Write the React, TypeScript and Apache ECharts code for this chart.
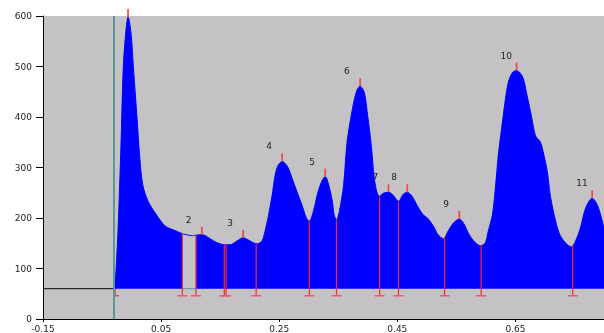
import React, { useEffect, useRef } from "react";
import * as echarts from "echarts";

// Detector trace: retention time (x) and signal (y)
const TIME = [
  -0.028, -0.023, -0.018, -0.014, -0.009, -0.006, -0.001, 0.003, 0.009, 0.014,
  0.019, 0.028, 0.04, 0.057, 0.074, 0.086, 0.103, 0.109, 0.119, 0.125,
  0.133, 0.145, 0.158, 0.167, 0.179, 0.189, 0.197, 0.206, 0.213, 0.221,
  0.226, 0.231, 0.238, 0.243, 0.248, 0.255, 0.264, 0.272, 0.281, 0.289,
  0.296, 0.301, 0.308, 0.316, 0.323, 0.328, 0.333, 0.34, 0.343, 0.347,
  0.352, 0.359, 0.365, 0.374, 0.381, 0.387, 0.394, 0.399, 0.406, 0.411,
  0.416, 0.42, 0.426, 0.435, 0.443, 0.452, 0.46, 0.467, 0.475, 0.484,
  0.494, 0.501, 0.511, 0.519, 0.528, 0.536, 0.545, 0.555, 0.562, 0.57,
  0.579, 0.591, 0.599, 0.604, 0.611, 0.616, 0.621, 0.628, 0.633, 0.638,
  0.645, 0.652, 0.662, 0.67, 0.677, 0.684, 0.692, 0.697, 0.704, 0.709,
  0.718, 0.726, 0.738, 0.745, 0.752, 0.76, 0.769, 0.78, 0.789, 0.797,
  0.801,
];
const SIGNAL = [
  61, 174, 343, 500, 578, 598, 567, 500, 402, 318,
  265, 233, 210, 184, 175, 169, 165, 166, 167, 165,
  159, 151, 147, 147, 155, 161, 157, 151, 149, 155,
  174, 200, 245, 284, 304, 312, 302, 278, 249, 224,
  200, 194, 214, 253, 275, 282, 269, 233, 206, 196,
  214, 265, 351, 416, 451, 461, 449, 410, 343, 278,
  249, 243, 249, 251, 245, 233, 247, 251, 243, 224,
  206, 200, 184, 167, 159, 174, 190, 198, 190, 171,
  155, 145, 151, 174, 206, 259, 324, 390, 435, 469,
  488, 492, 480, 441, 402, 363, 351, 331, 292, 245,
  194, 165, 147, 143, 155, 180, 220, 239, 225, 194,
  174,
];

const BASELINE = 60;
const BOUNDARY_FOOT = 46;
const INJECTION_TIME = -0.031;
const X_TICKS = [-0.15, 0.05, 0.25, 0.45, 0.65];
const Y_TICKS = [0, 100, 200, 300, 400, 500, 600];

// Integration boundaries (red drop lines)
const BOUNDARIES = [
  -0.028, 0.086, 0.109, 0.157, 0.16, 0.211, 0.301, 0.347, 0.42, 0.452, 0.53,
  0.592, 0.747,
];
// Peak 2 is bounded by these two drops and is drawn unfilled
const OPEN_PEAK = [0.086, 0.109];

// Peak apexes and their numbers
const PEAK_TIMES = [
  -0.006, 0.119, 0.189, 0.255, 0.328, 0.387, 0.435, 0.467, 0.555, 0.652, 0.78,
];
const PEAK_NAMES = ["", "2", "3", "4", "5", "6", "7", "8", "9", "10", "11"];

function signalAt(t: number): number {
  for (let i = 0; i < TIME.length - 1; i++) {
    if (t >= TIME[i] && t <= TIME[i + 1]) {
      const f = (t - TIME[i]) / (TIME[i + 1] - TIME[i]);
      return SIGNAL[i] + f * (SIGNAL[i + 1] - SIGNAL[i]);
    }
  }
  return SIGNAL[SIGNAL.length - 1];
}

const FONT = '9px "DejaVu Sans"';

export default function App() {
  const ref = useRef<HTMLDivElement>(null);

  useEffect(() => {
    if (!ref.current) return;
    const chart = echarts.init(ref.current, undefined, { renderer: "svg" });

    const filled = TIME.map((t, i) =>
      t > OPEN_PEAK[0] && t < OPEN_PEAK[1] ? [t, "-"] : [t, SIGNAL[i]]
    );
    const openOutline = TIME.map((t, i) => [t, SIGNAL[i]]).filter(
      (p) => p[0] >= OPEN_PEAK[0] && p[0] <= OPEN_PEAK[1]
    );
    const boundaryData = BOUNDARIES.map((t) => [t, signalAt(t)]);
    const peakData = PEAK_TIMES.map((t, i) => ({
      value: [t, signalAt(t)],
      name: PEAK_NAMES[i],
    }));

    const red = "#f52a2a";

    chart.setOption({
      animation: false,
      grid: {
        left: 43,
        top: 16,
        right: 0,
        bottom: 11,
        show: true,
        backgroundColor: "#c4c2c5",
        borderWidth: 0,
      },
      xAxis: {
        type: "value",
        min: X_TICKS[0],
        max: 0.8,
        interval: 0.2,
        axisLine: { show: true, onZero: false, lineStyle: { color: "#000", width: 1 } },
        axisTick: { show: true, length: 3, lineStyle: { color: "#000" } },
        axisLabel: {
          color: "#222",
          fontFamily: "DejaVu Sans",
          fontSize: 9,
          margin: 5,
          showMaxLabel: false,
          formatter: (v: number) => v.toFixed(2),
        },
        splitLine: { show: false },
      },
      yAxis: {
        type: "value",
        min: Y_TICKS[0],
        max: Y_TICKS[Y_TICKS.length - 1],
        interval: 100,
        axisLine: { show: true, onZero: false, lineStyle: { color: "#000", width: 1 } },
        axisTick: { show: true, length: 7, lineStyle: { color: "#000" } },
        axisLabel: {
          color: "#222",
          fontFamily: "DejaVu Sans",
          fontSize: 9,
          margin: 11,
        },
        splitLine: { show: false },
      },
      series: [
        {
          name: "baseline",
          type: "line",
          data: [
            [X_TICKS[0], BASELINE],
            [BOUNDARIES[0], BASELINE],
          ],
          symbol: "none",
          lineStyle: { color: "#000", width: 1 },
          z: 1,
          markLine: {
            silent: true,
            symbol: "none",
            label: { show: false },
            lineStyle: { color: "#5f9797", width: 2, type: "solid" },
            data: [{ xAxis: INJECTION_TIME }],
          },
        },
        {
          name: "open baseline",
          type: "line",
          data: [
            [OPEN_PEAK[0], BASELINE],
            [OPEN_PEAK[1], BASELINE],
          ],
          symbol: "none",
          lineStyle: { color: "#5f9797", width: 1 },
          z: 1,
        },
        {
          name: "signal",
          type: "line",
          data: filled,
          symbol: "none",
          connectNulls: false,
          smooth: 0.3,
          lineStyle: { color: "#0000ff", width: 1 },
          areaStyle: { color: "#0000ff", opacity: 1, origin: BASELINE },
          z: 2,
        },
        {
          name: "peak 2 outline",
          type: "line",
          data: openOutline,
          symbol: "none",
          smooth: 0.3,
          lineStyle: { color: "#0000ff", width: 1 },
          z: 2,
        },
        {
          name: "boundaries",
          type: "custom",
          data: boundaryData,
          encode: { x: 0, y: 1 },
          z: 3,
          clip: false,
          renderItem: (params: any, api: any) => {
            const t = api.value(0);
            const top = api.coord([t, api.value(1)]);
            const foot = api.coord([t, BOUNDARY_FOOT]);
            const base = api.coord([t, BASELINE]);
            const style = { stroke: red, lineWidth: 1.2 };
            if (params.dataIndex === 0) {
              return {
                type: "group",
                children: [
                  { type: "line", shape: { x1: base[0], y1: base[1], x2: foot[0], y2: foot[1] }, style },
                  { type: "line", shape: { x1: foot[0], y1: foot[1], x2: foot[0] + 4, y2: foot[1] }, style },
                ],
              };
            }
            return {
              type: "group",
              children: [
                { type: "line", shape: { x1: top[0], y1: top[1], x2: foot[0], y2: foot[1] }, style },
                { type: "line", shape: { x1: foot[0] - 5, y1: foot[1], x2: foot[0] + 5, y2: foot[1] }, style: { stroke: "#ef5a5a", lineWidth: 1.5 } },
              ],
            };
          },
        },
        {
          name: "peaks",
          type: "custom",
          data: peakData,
          encode: { x: 0, y: 1 },
          z: 4,
          clip: false,
          renderItem: (params: any, api: any) => {
            const p = api.coord([api.value(0), api.value(1)]);
            const name = PEAK_NAMES[params.dataIndex];
            const children: any[] = [
              {
                type: "line",
                shape: { x1: p[0], y1: p[1], x2: p[0], y2: p[1] - 8 },
                style: { stroke: "#f04040", lineWidth: 1.6 },
              },
            ];
            if (name) {
              children.push({
                type: "text",
                x: p[0] - 16,
                y: p[1] - 15,
                style: {
                  text: name,
                  fill: "#222",
                  font: FONT,
                  textAlign: "left",
                  textVerticalAlign: "middle",
                },
              });
            }
            return { type: "group", children };
          },
        },
      ],
    });

    return () => chart.dispose();
  }, []);

  return (
    <div
      ref={ref}
      style={{ position: "fixed", left: 0, top: 0, width: 604, height: 333 }}
    />
  );
}
